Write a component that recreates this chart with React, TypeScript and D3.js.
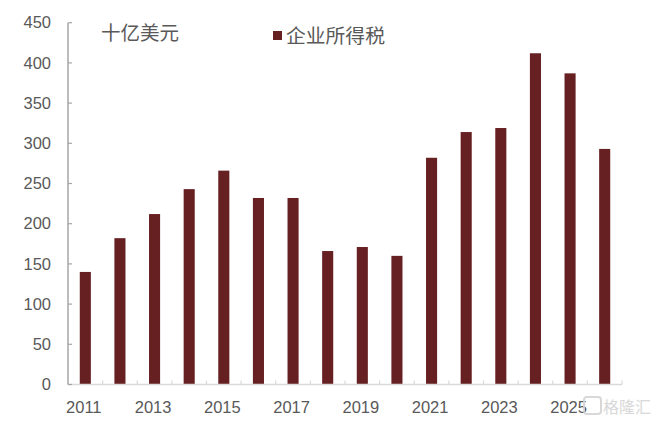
import React from "react";
import * as d3 from "d3";

const years = ["2011","2012","2013","2014","2015","2016","2017","2018","2019","2020","2021","2022","2023","2024","2025","2026"];
const taxValues = [140, 182, 212, 243, 266, 232, 232, 166, 171, 160, 282, 314, 319, 412, 387, 293];
const yTicks = [0, 50, 100, 150, 200, 250, 300, 350, 400, 450];
const xLabelYears = ["2011","2013","2015","2017","2019","2021","2023","2025"];
const seriesName = "企业所得税";
const unitLabel = "十亿美元";

const W = 656, H = 422;
const left = 68, right = 622, top = 22.7, bottom = 384.5;
const barColor = "#662022";
const textColor = "#595959";
const numFont = "'Liberation Sans', Arial, sans-serif";
const cjkFont = "'Noto Sans CJK SC', sans-serif";

export default function App() {
  const x = d3.scaleBand<string>().domain(years).range([left, right]).paddingInner(0.68).paddingOuter(0.34);
  const xb = d3.scaleBand<string>().domain(years).range([left, right]);
  const y = d3.scaleLinear().domain([0, 450]).range([bottom, top]);
  return (
    <div style={{ position: "absolute", left: 0, top: 0 }}>
      <svg width={W} height={H} style={{ display: "block", background: "#fff" }}>
        {/* bars */}
        {years.map((yr, i) => (
          <rect key={yr} x={x(yr)} y={y(taxValues[i])} width={x.bandwidth()} height={bottom - y(taxValues[i])} fill={barColor} />
        ))}
        {/* x axis */}
        <line x1={left} x2={right} y1={bottom} y2={bottom} stroke="#d9d9d9" strokeWidth={1.5} />
        {years.map((yr) => (
          <line key={"xt" + yr} x1={(xb(yr) as number) + xb.bandwidth()} x2={(xb(yr) as number) + xb.bandwidth()} y1={bottom} y2={bottom - 4} stroke="#d9d9d9" strokeWidth={1.2} />
        ))}
        {xLabelYears.map((yr) => (
          <text key={"xl" + yr} x={(xb(yr) as number) + xb.bandwidth() / 2 - 1.5} y={413} textAnchor="middle" fontSize={16.5} fill={textColor} fontFamily={numFont}>{yr}</text>
        ))}
        {/* y axis */}
        <line x1={left} x2={left} y1={top} y2={bottom} stroke="#a6a6a6" strokeWidth={1.5} />
        {yTicks.map((t) => (
          <g key={"yt" + t}>
            <line x1={left} x2={left + 4} y1={y(t)} y2={y(t)} stroke="#a6a6a6" strokeWidth={1.2} />
            <text x={51} y={y(t)} dy="0.35em" textAnchor="end" fontSize={16.5} fill={textColor} fontFamily={numFont}>{t}</text>
          </g>
        ))}
        {/* unit label */}
        <text x={101} y={40} fontSize={19.5} fill={textColor} fontFamily={cjkFont}>{unitLabel}</text>
        {/* legend */}
        <rect x={273} y={31} width={9} height={9} fill={barColor} />
        <text x={286} y={43} fontSize={19.8} fill={textColor} fontFamily={cjkFont}>{seriesName}</text>
        {/* watermark */}
        <g opacity={0.9}>
          <rect x={584} y={397} width={17} height={17} rx={3} fill="none" stroke="#d4d4d4" strokeWidth={2} />
          <text x={603} y={413} fontSize={16} fill="#d4d4d4" fontFamily={cjkFont}>格隆汇</text>
        </g>
      </svg>
    </div>
  );
}
